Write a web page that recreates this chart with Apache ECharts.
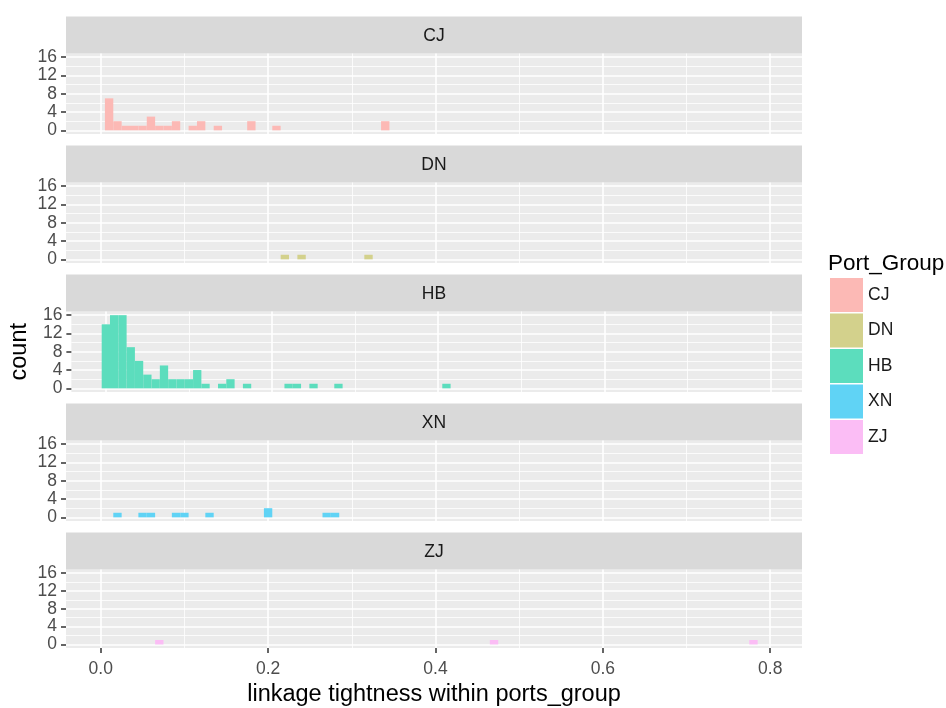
<!DOCTYPE html>
<html><head><meta charset="utf-8">
<script src="https://cdn.jsdelivr.net/npm/echarts@6/dist/echarts.min.js"></script>
<style>html,body{margin:0;padding:0;background:#fff}#c{width:946px;height:708px}</style>
</head><body><div id="c"></div>
<script>
// ---- data (histogram bins: centre of bin, count) ----
const groups = ['CJ', 'DN', 'HB', 'XN', 'ZJ'];
const colors = ['#FCB9B5', '#D3D18C', '#5CDDBD', '#60D3F5', '#FBBDF5'];
const binWidth = 0.01;

const cjBins   = [0.01, 0.02, 0.03, 0.04, 0.05, 0.06, 0.07, 0.08, 0.09, 0.11, 0.12, 0.14, 0.18, 0.21, 0.34];
const cjCounts = [7,    2,    1,    1,    1,    3,    1,    1,    2,    1,    2,    1,    2,    1,    2];

const dnBins   = [0.22, 0.24, 0.32];
const dnCounts = [1,    1,    1];

const hbBins   = [0.00, 0.01, 0.02, 0.03, 0.04, 0.05, 0.06, 0.07, 0.08, 0.09, 0.10, 0.11, 0.12, 0.14, 0.15, 0.17, 0.22, 0.23, 0.25, 0.28, 0.41];
const hbCounts = [14,   16,   16,   9,    6,    3,    2,    5,    2,    2,    2,    4,    1,    1,    2,    1,    1,    1,    1,    1,    1];

const xnBins   = [0.02, 0.05, 0.06, 0.09, 0.10, 0.13, 0.20, 0.27, 0.28];
const xnCounts = [1,    1,    1,    1,    1,    1,    2,    1,    1];

const zjBins   = [0.07, 0.47, 0.78];
const zjCounts = [1,    1,    1];

const xTicks = [0, 0.2, 0.4, 0.6, 0.8];
const yTicks = [0, 4, 8, 12, 16];
const xTitle = 'linkage tightness within ports_group';
const yTitle = 'count';
const legendTitle = 'Port_Group';

// ---- layout ----
const FONT = '"Liberation Sans", Arial, sans-serif';
const PL = 66, PW = 736, PH = 80.5, PITCH = 129, TOP0 = 53.5, STRIP_H = 37;
const X_MIN = -0.0415, X_MAX = 0.838, Y_MIN = -0.8, Y_MAX = 16.8;

const binsList = [cjBins, dnBins, hbBins, xnBins, zjBins];
const countsList = [cjCounts, dnCounts, hbCounts, xnCounts, zjCounts];

const grids = [], xAxes = [], yAxes = [], series = [], graphics = [];
groups.forEach((g, i) => {
  const top = TOP0 + i * PITCH;
  const last = i === groups.length - 1;
  grids.push({left: PL, top: top, width: PW, height: PH, show: true,
    backgroundColor: '#EBEBEB', borderWidth: 0, containLabel: false});
  xAxes.push({
    type: 'value', gridIndex: i, min: X_MIN, max: X_MAX, position: 'bottom',
    minInterval: 0.2, maxInterval: 0.2, splitNumber: 4,
    axisLine: {show: false, onZero: false},
    axisTick: {show: last, length: 5, lineStyle: {color: '#333333', width: 1.5}, customValues: xTicks},
    axisLabel: {show: last, customValues: xTicks, margin: 12, color: '#4D4D4D', fontSize: 17.5, fontFamily: FONT,
      formatter: v => v.toFixed(1)},
    splitLine: {show: true, lineStyle: {color: '#FFFFFF', width: 1.6}},
    minorTick: {show: false, splitNumber: 2},
    minorSplitLine: {show: true, lineStyle: {color: '#FFFFFF', width: 0.8}},
    name: last ? xTitle : '', nameLocation: 'middle', nameGap: 35,
    nameTextStyle: {fontSize: 23.5, color: '#000000', fontFamily: FONT}
  });
  yAxes.push({
    type: 'value', gridIndex: i, min: Y_MIN, max: Y_MAX, position: 'left',
    minInterval: 4, maxInterval: 4, splitNumber: 4,
    axisLine: {show: false, onZero: false},
    axisTick: {show: true, length: 5, lineStyle: {color: '#333333', width: 1.5}, customValues: yTicks},
    axisLabel: {customValues: yTicks, margin: 9, color: '#4D4D4D', fontSize: 17.5, fontFamily: FONT},
    splitLine: {show: true, lineStyle: {color: '#FFFFFF', width: 1.6}},
    minorTick: {show: false, splitNumber: 2},
    minorSplitLine: {show: true, lineStyle: {color: '#FFFFFF', width: 0.8}},
    name: i === 2 ? yTitle : '', nameLocation: 'middle', nameGap: 35, nameRotate: 90,
    nameTextStyle: {fontSize: 23.5, color: '#000000', fontFamily: FONT}
  });
  const data = binsList[i].map((b, k) => [b, countsList[i][k]]);
  series.push({
    name: g, type: 'custom', xAxisIndex: i, yAxisIndex: i,
    itemStyle: {color: colors[i]},
    encode: {x: 0, y: 1},
    data: data,
    renderItem: (params, api) => {
      const x = api.value(0), y = api.value(1);
      const p0 = api.coord([x - binWidth / 2, y]);
      const p1 = api.coord([x + binWidth / 2, 0]);
      return {type: 'rect',
        shape: {x: p0[0], y: p0[1], width: p1[0] - p0[0], height: p1[1] - p0[1]},
        style: {fill: colors[i]}};
    }
  });
  // facet strip
  graphics.push({type: 'rect', left: PL, top: top - STRIP_H, shape: {width: PW, height: STRIP_H},
    style: {fill: '#D9D9D9'}, silent: true});
  graphics.push({type: 'text', x: PL + PW / 2, y: top - STRIP_H / 2 + 1,
    style: {text: g, textAlign: 'center', textVerticalAlign: 'middle', fontSize: 17.5, fill: '#1A1A1A', fontFamily: FONT}});
});

graphics.push({type: 'text', x: 828, y: 264,
  style: {text: legendTitle, textAlign: 'left', textVerticalAlign: 'middle', fontSize: 22.5, fill: '#000000', fontFamily: FONT}});

const chart = echarts.init(document.getElementById('c'), null, {renderer: 'canvas'});
chart.setOption({
  animation: false,
  backgroundColor: '#FFFFFF',
  grid: grids, xAxis: xAxes, yAxis: yAxes, series: series,
  legend: {
    orient: 'vertical', left: 830, top: 278, padding: 0, selectedMode: false,
    icon: 'rect', itemWidth: 33, itemHeight: 34, itemGap: 1.5,
    data: groups.map((g, i) => ({name: g, itemStyle: {color: colors[i]}})),
    textStyle: {fontSize: 17.5, color: '#1A1A1A', fontFamily: FONT, padding: [3, 0, 0, 0]}
  },
  graphic: graphics
});
</script></body></html>
